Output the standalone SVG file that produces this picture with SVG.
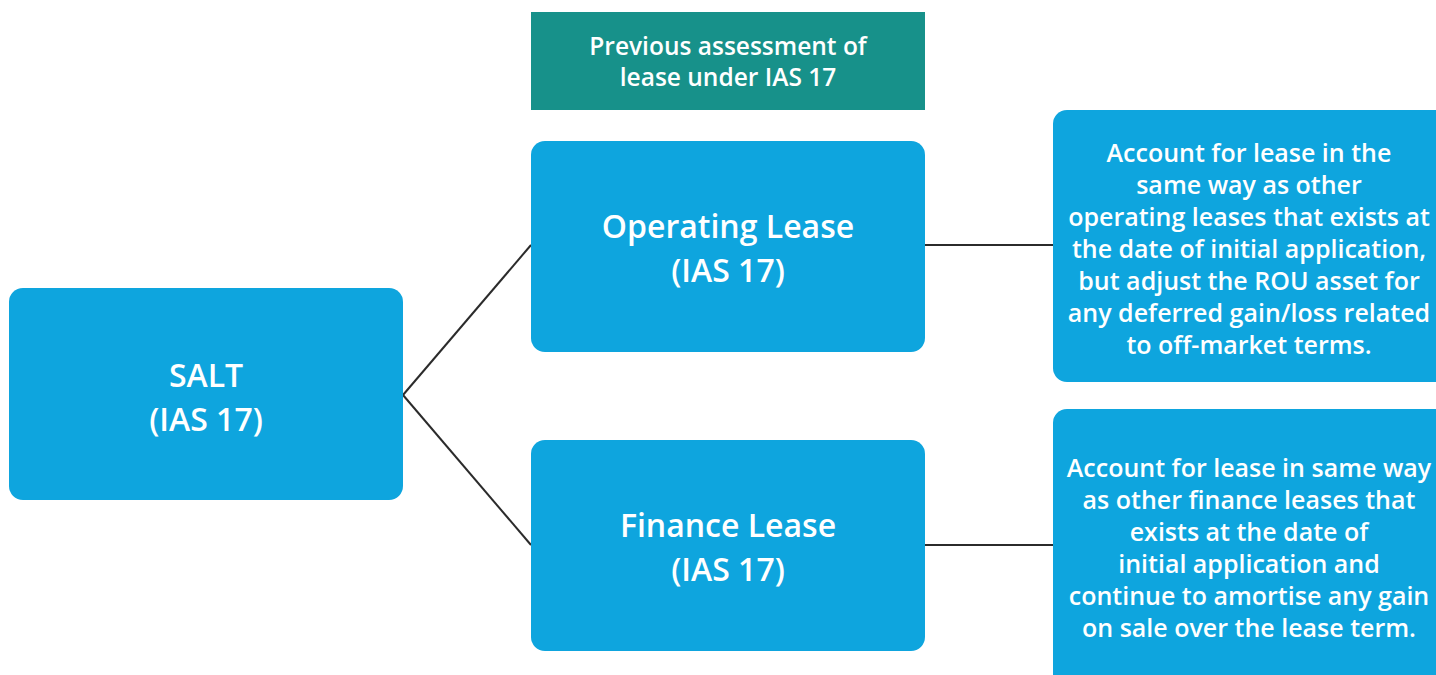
<svg xmlns="http://www.w3.org/2000/svg" width="1436" height="675" viewBox="0 0 1436 675">
<style>
.box{fill:#0EA5DE}
.hdr{fill:#17918A}
.t{fill:#fff;font-family:"Open Sans","Noto Sans",sans-serif;font-weight:600;text-anchor:middle}
.big{font-size:32px}
.sm{font-size:25px}
.md{font-size:24.5px}
.ln{stroke:#2b2b2b;stroke-width:2;fill:none}
</style>
<rect width="1436" height="675" fill="#fff"/>
<g id="connectors">
<path class="ln" d="M403,395 L531,245"/>
<path class="ln" d="M403,395 L531,545"/>
<path class="ln" d="M925,245 L1053,245"/>
<path class="ln" d="M925,545 L1053,545"/>
</g>
<g id="header">
<rect class="hdr" x="531" y="12" width="394" height="98"/>
<text class="t md" x="728" y="55">Previous assessment of</text>
<text class="t md" x="728" y="86">lease under IAS 17</text>
</g>
<g id="salt">
<rect class="box" x="9" y="288" width="394" height="212" rx="14"/>
<text class="t big" x="206" y="387">SALT</text>
<text class="t big" x="206" y="431">(IAS 17)</text>
</g>
<g id="operating">
<rect class="box" x="531" y="141" width="394" height="211" rx="14"/>
<text class="t big" x="728" y="238">Operating Lease</text>
<text class="t big" x="728" y="282">(IAS 17)</text>
</g>
<g id="finance">
<rect class="box" x="531" y="440" width="394" height="211" rx="14"/>
<text class="t big" x="728" y="537">Finance Lease</text>
<text class="t big" x="728" y="581">(IAS 17)</text>
</g>
<g id="op-desc">
<rect class="box" x="1053" y="110" width="400" height="272" rx="14"/>
<text class="t sm" x="1249" y="162">Account for lease in the</text>
<text class="t sm" x="1249" y="194">same way as other</text>
<text class="t sm" x="1249" y="226">operating leases that exists at</text>
<text class="t sm" x="1249" y="258">the date of initial application,</text>
<text class="t sm" x="1249" y="290">but adjust the ROU asset for</text>
<text class="t sm" x="1249" y="322">any deferred gain/loss related</text>
<text class="t sm" x="1249" y="354">to off-market terms.</text>
</g>
<g id="fin-desc">
<rect class="box" x="1053" y="409" width="400" height="290" rx="14"/>
<text class="t sm" x="1249" y="477">Account for lease in same way</text>
<text class="t sm" x="1249" y="509">as other finance leases that</text>
<text class="t sm" x="1249" y="541">exists at the date of</text>
<text class="t sm" x="1249" y="573">initial application and</text>
<text class="t sm" x="1249" y="605">continue to amortise any gain</text>
<text class="t sm" x="1249" y="637">on sale over the lease term.</text>
</g>
</svg>
